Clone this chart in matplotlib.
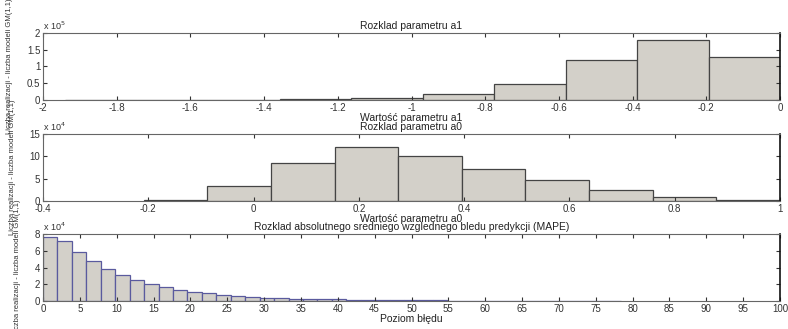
import numpy as np
import matplotlib
matplotlib.use("Agg")
import matplotlib.pyplot as plt
from matplotlib.ticker import FuncFormatter

plt.rcParams['font.family'] = ['Liberation Sans', 'DejaVu Sans']

# ---- data ----
a1_edges = [-1.94, -1.746, -1.552, -1.358, -1.164, -0.970, -0.776, -0.582, -0.388, -0.194, 0.0]
a1_counts = [0, 0, 0, 3000, 6000, 17000, 48000, 119000, 180000, 129000]

a0_edges = [-0.209, -0.088, 0.033, 0.154, 0.275, 0.396, 0.516, 0.637, 0.758, 0.879, 1.0]
a0_counts = [3000, 33000, 86000, 120000, 101000, 71000, 47500, 24000, 9000, 1500]

mape_start = 0.0
mape_width = 1.96
mape_counts = [76000, 71200, 58800, 47600, 38000, 30800, 24800, 20000, 16400, 13600,
               10800, 9200, 7200, 6000, 4800, 4000, 3200, 2800, 2400, 2000,
               1800, 1600, 1200, 1100, 900, 800, 700, 600, 500, 400,
               350, 300, 250, 200, 180, 150, 120, 100, 80, 60]

titles = ["Rozklad parametru a1", "Rozklad parametru a0",
          "Rozklad absolutnego sredniego wzglednego bledu predykcji (MAPE)"]
xlabels = ["Wartość parametru a1", "Wartość parametru a0", "Poziom błędu"]
ylabel = "Liczba realizacji - liczba modeli GM(1,1)"

a1_xticks = [-2, -1.8, -1.6, -1.4, -1.2, -1, -0.8, -0.6, -0.4, -0.2, 0]
a1_yticks = [0, 0.5e5, 1e5, 1.5e5, 2e5]
a0_xticks = [-0.4, -0.2, 0, 0.2, 0.4, 0.6, 0.8, 1]
a0_yticks = [0, 5e4, 10e4, 15e4]
mape_xticks = list(range(0, 101, 5))
mape_yticks = [0, 2e4, 4e4, 6e4, 8e4]

face = '#d3d0c9'
W, H = 788, 329
fig = plt.figure(figsize=(W / 100, H / 100), dpi=100)

def make_ax(top_px, bottom_px):
    return fig.add_axes([43 / W, 1 - bottom_px / H, 737 / W, (bottom_px - top_px) / H])

def style(ax, xlim, ylim, xticks, yticks, scale, exp, title, xlabel):
    ax.set_xlim(*xlim)
    ax.set_ylim(*ylim)
    ax.set_xticks(xticks)
    ax.set_yticks(yticks)
    ax.xaxis.set_major_formatter(FuncFormatter(lambda v, p: f'{v:g}'))
    ax.yaxis.set_major_formatter(FuncFormatter(lambda v, p, s=scale: f'{v / s:g}'))
    ax.tick_params(direction='in', top=True, right=True, length=3, width=0.8,
                   labelsize=7, colors='#333333', pad=2)
    for sp in ax.spines.values():
        sp.set_color('#666666')
        sp.set_linewidth(0.8)
    ax.spines['right'].set_color('#111111')
    ax.spines['right'].set_linewidth(1.2)
    ax.set_title(title, fontsize=7.5, color='#222222', pad=3)
    ax.set_xlabel(xlabel, fontsize=7.5, color='#222222', labelpad=0)
    ax.set_ylabel(ylabel, fontsize=5.5, color='#333333', labelpad=10)
    ax.text(0.0, 1.01, r'x 10$^{%d}$' % exp, transform=ax.transAxes,
            fontsize=6.5, color='#333333', ha='left', va='bottom')

# ---- a1 ----
ax1 = make_ax(33, 100)
e = np.array(a1_edges)
ax1.bar(e[:-1], a1_counts, width=np.diff(e), align='edge', color=face,
        edgecolor='#444444', linewidth=0.9)
style(ax1, (-2, 0), (0, 2e5), a1_xticks, a1_yticks, 1e5, 5, titles[0], xlabels[0])

# ---- a0 ----
ax2 = make_ax(134, 201)
e = np.array(a0_edges)
ax2.bar(e[:-1], a0_counts, width=np.diff(e), align='edge', color=face,
        edgecolor='#444444', linewidth=0.9)
style(ax2, (-0.4, 1), (0, 15e4), a0_xticks, a0_yticks, 1e4, 4, titles[1], xlabels[1])

# ---- MAPE ----
ax3 = make_ax(234, 301)
lefts = mape_start + mape_width * np.arange(len(mape_counts))
ax3.bar(lefts, mape_counts, width=mape_width, align='edge', color=face,
        edgecolor='#5a5a9e', linewidth=0.9)
style(ax3, (0, 100), (0, 8e4), mape_xticks, mape_yticks, 1e4, 4, titles[2], xlabels[2])

fig.savefig('out.png', dpi=100)
